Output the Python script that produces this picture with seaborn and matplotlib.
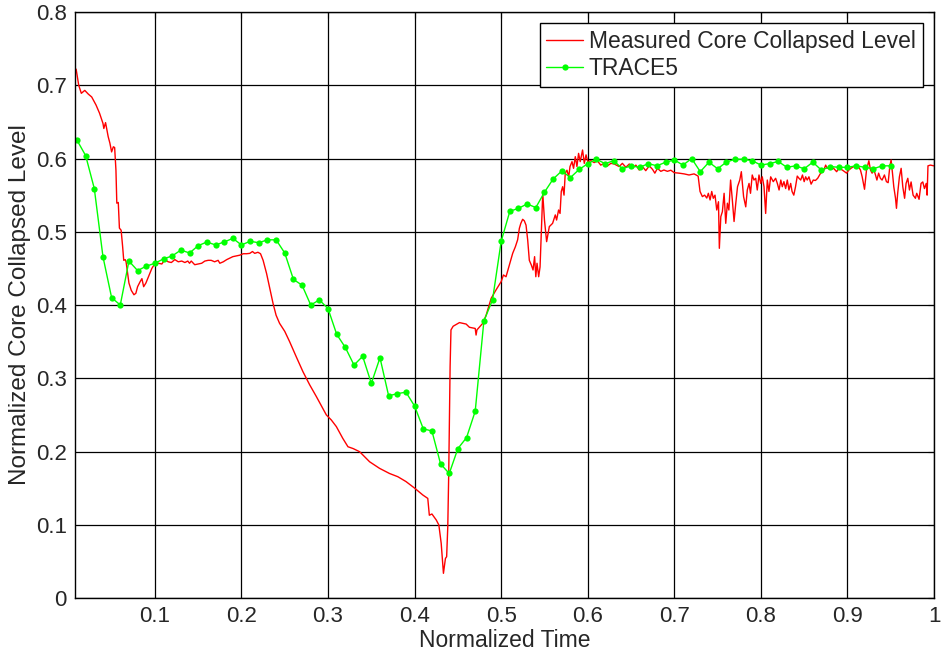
# core collapsed level: measured vs TRACE5
import numpy as np
import pandas as pd
import matplotlib
matplotlib.use("Agg")
import matplotlib.pyplot as plt
import seaborn as sns

# measured curve
t_meas = [0.009, 0.012, 0.015, 0.019, 0.023, 0.027, 0.032, 0.036, 0.040, 0.041,
          0.043, 0.046, 0.048, 0.050, 0.052, 0.0535, 0.055, 0.056, 0.0577, 0.059,
          0.061, 0.0627, 0.064, 0.0657, 0.0667, 0.070, 0.0727, 0.0758, 0.078, 0.080,
          0.083, 0.085, 0.087, 0.0896, 0.0927, 0.0965, 0.0997, 0.104, 0.108, 0.1115,
          0.1153, 0.119, 0.123, 0.127, 0.131, 0.1346, 0.138, 0.140, 0.142, 0.146,
          0.150, 0.154, 0.1577, 0.1615, 0.165, 0.169, 0.173, 0.175, 0.179, 0.183,
          0.1865, 0.190, 0.194, 0.198, 0.202, 0.2058, 0.2096, 0.2127, 0.2153, 0.219,
          0.222, 0.225, 0.229, 0.2326, 0.2365, 0.240, 0.244, 0.250, 0.2556, 0.2634,
          0.271, 0.2788, 0.2865, 0.292, 0.298, 0.3038, 0.3096, 0.317, 0.323, 0.329,
          0.3365, 0.348, 0.3595, 0.371, 0.3806, 0.390, 0.400, 0.4095, 0.4152, 0.417,
          0.420, 0.425, 0.428, 0.4307, 0.4333, 0.4356, 0.437, 0.4383, 0.4394, 0.441,
          0.442, 0.4445, 0.4518, 0.4595, 0.4633, 0.470, 0.471, 0.472, 0.4787, 0.4826,
          0.4884, 0.494, 0.500, 0.5026, 0.5056, 0.5095, 0.5133, 0.5164, 0.519, 0.521,
          0.5227, 0.5248, 0.5267, 0.5287, 0.5306, 0.5325, 0.5348, 0.5368, 0.5386, 0.540,
          0.5414, 0.5433, 0.5449, 0.5464, 0.548, 0.550, 0.5525, 0.5556, 0.5594, 0.5625,
          0.564, 0.5663, 0.568, 0.5694, 0.571, 0.5726, 0.574, 0.576, 0.578, 0.5795,
          0.5818, 0.5836, 0.5856, 0.5875, 0.5894, 0.5913, 0.594, 0.596, 0.598, 0.600,
          0.6037, 0.6075, 0.611, 0.615, 0.619, 0.6228, 0.6267, 0.6306, 0.6363, 0.640,
          0.644, 0.648, 0.6517, 0.6556, 0.6594, 0.6632, 0.667, 0.671, 0.6748, 0.6775,
          0.6805, 0.6844, 0.688, 0.692, 0.696, 0.6998, 0.7055, 0.7113, 0.717, 0.7228,
          0.7275, 0.7297, 0.7324, 0.735, 0.7375, 0.7393, 0.7413, 0.7432, 0.745, 0.747,
          0.749, 0.751, 0.752, 0.7537, 0.7555, 0.7575, 0.7594, 0.7613, 0.763, 0.765,
          0.767, 0.769, 0.771, 0.773, 0.7756, 0.7774, 0.780, 0.7825, 0.7843, 0.7863,
          0.788, 0.790, 0.792, 0.794, 0.7958, 0.7978, 0.7998, 0.8016, 0.8036, 0.8055,
          0.8074, 0.8093, 0.8113, 0.8143, 0.817, 0.819, 0.821, 0.823, 0.8247, 0.8266,
          0.8286, 0.8305, 0.8324, 0.8344, 0.836, 0.838, 0.840, 0.842, 0.844, 0.846,
          0.848, 0.850, 0.8517, 0.8535, 0.8555, 0.858, 0.8605, 0.863, 0.8656, 0.869,
          0.872, 0.8748, 0.8766, 0.8785, 0.881, 0.884, 0.8875, 0.890, 0.894, 0.8966,
          0.899, 0.9016, 0.904, 0.907, 0.910, 0.9125, 0.915, 0.917, 0.9197, 0.922,
          0.9247, 0.9266, 0.9285, 0.930, 0.9324, 0.934, 0.936, 0.938, 0.940, 0.9427,
          0.945, 0.947, 0.9489, 0.9504, 0.952, 0.9535, 0.9555, 0.9566, 0.958, 0.960,
          0.962, 0.9639, 0.966, 0.9677, 0.9697, 0.9716, 0.9735, 0.9758, 0.9785, 0.980,
          0.9827, 0.985, 0.987, 0.9889, 0.991, 0.992, 0.993, 0.9958, 0.9997]
lvl_meas = [0.722, 0.700, 0.689, 0.693, 0.688, 0.684, 0.673, 0.662, 0.648, 0.641,
            0.649, 0.630, 0.621, 0.609, 0.616, 0.615, 0.584, 0.539, 0.540, 0.505,
            0.502, 0.480, 0.461, 0.462, 0.459, 0.430, 0.420, 0.414, 0.416, 0.425,
            0.432, 0.436, 0.425, 0.430, 0.439, 0.450, 0.456, 0.457, 0.456, 0.462,
            0.459, 0.458, 0.462, 0.459, 0.460, 0.458, 0.460, 0.457, 0.460, 0.455,
            0.456, 0.457, 0.460, 0.461, 0.461, 0.459, 0.461, 0.457, 0.459, 0.462,
            0.464, 0.466, 0.467, 0.468, 0.470, 0.470, 0.4705, 0.473, 0.4705, 0.472,
            0.470, 0.461, 0.443, 0.423, 0.402, 0.386, 0.375, 0.364, 0.350, 0.329,
            0.309, 0.291, 0.275, 0.263, 0.250, 0.243, 0.234, 0.218, 0.2065, 0.204,
            0.1997, 0.186, 0.177, 0.170, 0.1656, 0.159, 0.150, 0.1406, 0.136, 0.113,
            0.1147, 0.1065, 0.0997, 0.0747, 0.0337, 0.054, 0.0564, 0.097, 0.170, 0.316,
            0.366, 0.371, 0.376, 0.374, 0.3696, 0.368, 0.359, 0.366, 0.375, 0.386,
            0.409, 0.4205, 0.432, 0.441, 0.4386, 0.4546, 0.4706, 0.4796, 0.489, 0.5047,
            0.5115, 0.517, 0.515, 0.509, 0.489, 0.461, 0.4546, 0.4478, 0.466, 0.4386,
            0.457, 0.4386, 0.452, 0.5024, 0.5525, 0.516, 0.4865, 0.507, 0.5115, 0.523,
            0.516, 0.5297, 0.525, 0.555, 0.5615, 0.550, 0.580, 0.584, 0.575, 0.589,
            0.5957, 0.5866, 0.6025, 0.589, 0.607, 0.5957, 0.6116, 0.5934, 0.605, 0.5957,
            0.597, 0.5944, 0.597, 0.591, 0.5934, 0.590, 0.5934, 0.5925, 0.589, 0.5934,
            0.588, 0.5925, 0.5866, 0.591, 0.5843, 0.589, 0.5834, 0.590, 0.5852, 0.580,
            0.5866, 0.5825, 0.5843, 0.5825, 0.584, 0.5807, 0.580, 0.579, 0.5775, 0.579,
            0.576, 0.555, 0.548, 0.550, 0.546, 0.5525, 0.5434, 0.555, 0.5457, 0.550,
            0.5297, 0.541, 0.4774, 0.5206, 0.5274, 0.5525, 0.5115, 0.539, 0.5297, 0.5706,
            0.5434, 0.514, 0.539, 0.5615, 0.5706, 0.582, 0.548, 0.534, 0.557, 0.566,
            0.5525, 0.5775, 0.5706, 0.573, 0.557, 0.5775, 0.566, 0.575, 0.5615, 0.525,
            0.5706, 0.555, 0.575, 0.5684, 0.573, 0.566, 0.557, 0.5706, 0.5615, 0.5684,
            0.559, 0.5706, 0.557, 0.566, 0.555, 0.550, 0.5615, 0.576, 0.573, 0.5706,
            0.5775, 0.5684, 0.575, 0.5706, 0.575, 0.565, 0.5706, 0.570, 0.573, 0.580,
            0.582, 0.591, 0.5866, 0.589, 0.5852, 0.5866, 0.582, 0.5866, 0.5843, 0.582,
            0.580, 0.5843, 0.5866, 0.589, 0.5866, 0.589, 0.5843, 0.575, 0.558, 0.5843,
            0.597, 0.5843, 0.580, 0.5866, 0.5775, 0.5706, 0.580, 0.573, 0.5706, 0.5775,
            0.5684, 0.567, 0.589, 0.598, 0.580, 0.5615, 0.5457, 0.532, 0.5525, 0.575,
            0.5866, 0.5615, 0.5457, 0.566, 0.573, 0.557, 0.568, 0.550, 0.5457, 0.5525,
            0.5443, 0.566, 0.568, 0.559, 0.566, 0.550, 0.590, 0.591, 0.590]

# TRACE5 result, one point every 0.01
t_trace = [round(0.01 * k, 2) for k in range(1, 96)]
lvl_trace = [0.625, 0.604, 0.559, 0.466, 0.410, 0.400, 0.460, 0.447, 0.453, 0.457,
             0.463, 0.467, 0.475, 0.471, 0.481, 0.486, 0.482, 0.486, 0.491, 0.482,
             0.487, 0.485, 0.489, 0.489, 0.471, 0.435, 0.427, 0.400, 0.407, 0.395,
             0.360, 0.342, 0.318, 0.330, 0.293, 0.328, 0.276, 0.279, 0.281, 0.262,
             0.231, 0.228, 0.183, 0.170, 0.204, 0.219, 0.255, 0.378, 0.407, 0.487,
             0.528, 0.532, 0.538, 0.533, 0.554, 0.572, 0.583, 0.574, 0.585, 0.593,
             0.599, 0.593, 0.597, 0.586, 0.590, 0.588, 0.593, 0.590, 0.595, 0.598,
             0.591, 0.600, 0.582, 0.595, 0.586, 0.595, 0.599, 0.599, 0.597, 0.591,
             0.593, 0.596, 0.588, 0.590, 0.586, 0.595, 0.584, 0.589, 0.588, 0.588,
             0.590, 0.588, 0.586, 0.590, 0.590]

df_meas = pd.DataFrame({"t": t_meas, "lvl": lvl_meas})
df_trace = pd.DataFrame({"t": t_trace, "lvl": lvl_trace})

sns.set_style("white")
plt.rcParams["font.family"] = ["Liberation Sans", "DejaVu Sans"]

fig = plt.figure(figsize=(9.41, 6.56), dpi=100)
ax = fig.add_axes([0.0797, 0.0884, 0.9129, 0.8933])

sns.lineplot(data=df_meas, x="t", y="lvl", ax=ax, color="#ff0000", lw=1.0,
             estimator=None, sort=False, label="Measured Core Collapsed Level")
sns.lineplot(data=df_trace, x="t", y="lvl", ax=ax, color="#00ff00", lw=1.0,
             marker="o", markersize=4.5, markeredgewidth=0, estimator=None,
             sort=False, label="TRACE5")

ax.set_xlim(0.0077, 1.0)
ax.set_ylim(0, 0.8)
ax.set_xticks([0.1, 0.2, 0.3, 0.4, 0.5, 0.6, 0.7, 0.8, 0.9, 1.0])
ax.set_xticklabels(["0.1", "0.2", "0.3", "0.4", "0.5", "0.6", "0.7", "0.8", "0.9", "1"])
ax.set_yticks([0, 0.1, 0.2, 0.3, 0.4, 0.5, 0.6, 0.7, 0.8])
ax.set_yticklabels(["0", "0.1", "0.2", "0.3", "0.4", "0.5", "0.6", "0.7", "0.8"])
ax.grid(True, color="black", lw=0.9, ls="-")
ax.set_axisbelow(True)
ax.tick_params(direction="in", length=4, labelsize=16, color="black",
               top=True, right=True, pad=6)
for s in ax.spines.values():
    s.set_color("black")
    s.set_linewidth(1.0)

ax.set_xlabel("Normalized Time", fontsize=16.5, labelpad=1)
ax.set_ylabel("Normalized Core Collapsed Level", fontsize=17.5, labelpad=3)

leg = ax.legend(loc="upper right", fontsize=16.5, frameon=True, fancybox=False,
                framealpha=1, edgecolor="black", borderaxespad=0.5,
                handlelength=1.6, handletextpad=0.25, borderpad=0.3,
                labelspacing=0.15)
leg.get_frame().set_linewidth(1.0)

fig.savefig("out.png", dpi=100)
